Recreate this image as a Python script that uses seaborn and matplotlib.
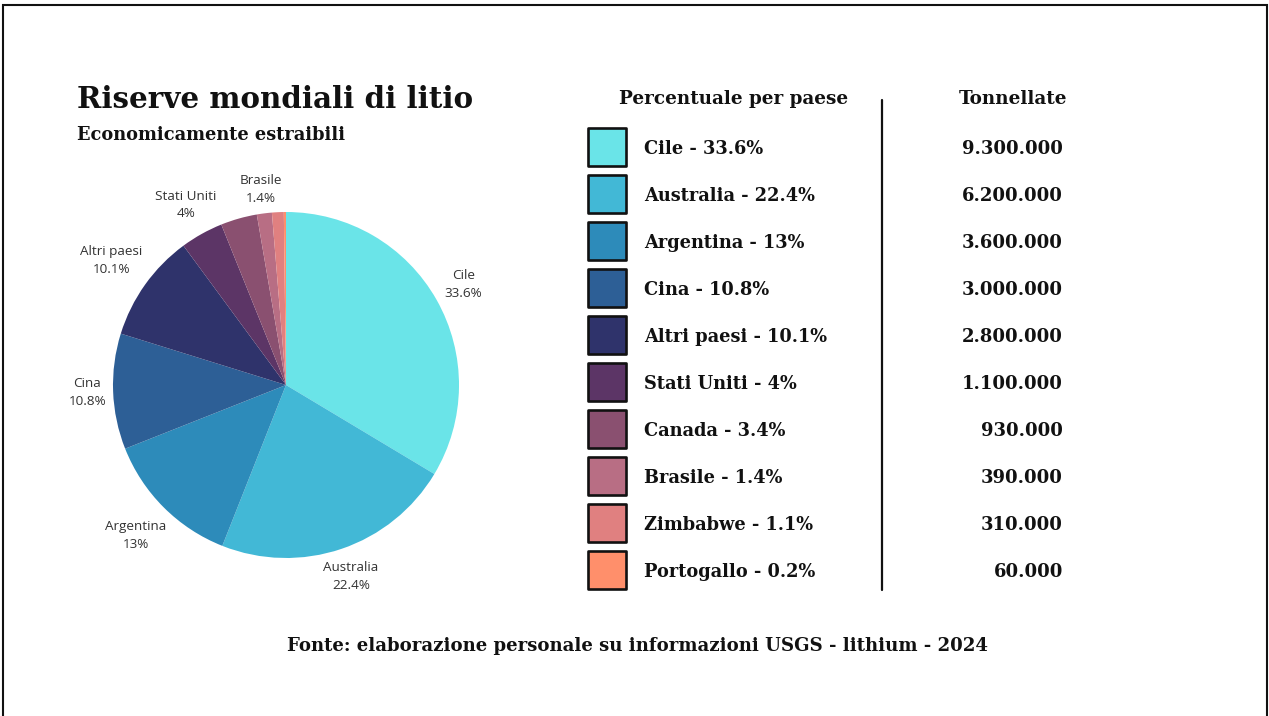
import matplotlib
matplotlib.use('Agg')
import matplotlib.pyplot as plt
from matplotlib.patches import Rectangle
import seaborn as sns
import numpy as np
import pandas as pd

# dati: riserve mondiali di litio (USGS 2024)
paesi = ['Cile', 'Australia', 'Argentina', 'Cina', 'Altri paesi',
         'Stati Uniti', 'Canada', 'Brasile', 'Zimbabwe', 'Portogallo']
quote = [33.6, 22.4, 13, 10.8, 10.1, 4, 3.4, 1.4, 1.1, 0.2]
quote_txt = ['33.6%', '22.4%', '13%', '10.8%', '10.1%',
             '4%', '3.4%', '1.4%', '1.1%', '0.2%']
tonnellate = ['9.300.000', '6.200.000', '3.600.000', '3.000.000', '2.800.000',
              '1.100.000', '930.000', '390.000', '310.000', '60.000']
colori = ['#6ae4e8', '#42b8d6', '#2d8bba', '#2d5f96', '#2f336b',
          '#5c3566', '#8a5070', '#b86e84', '#e08080', '#ff8f6b']

# quali spicchi hanno etichetta e a che distanza (stile)
etichetta_su = [True, True, True, True, True, True, False, True, False, False]
dist_etichette = [1.18, 1.17, 1.23, 1.15, 1.24, 1.19, 1.2, 1.14, 1.2, 1.2]

sns.set_theme(style='white')
plt.rcParams['font.family'] = ['DejaVu Serif']

W, H = 1269, 716
fig = plt.figure(figsize=(W / 100, H / 100), dpi=100)
fig.patch.set_facecolor('white')

# cornice
fig.add_artist(Rectangle((3 / W, -0.05), (1267 - 3) / W, (H - 5) / H + 0.05,
                         transform=fig.transFigure, fill=False,
                         edgecolor='#111111', linewidth=1.5))

# titolo
serif = dict(family='DejaVu Serif', weight='bold', color='#111111')
fig.text(77 / W, 1 - 108 / H, 'Riserve mondiali di litio', fontsize=21.2,
         va='baseline', ha='left', **serif)
fig.text(77 / W, 1 - 140 / H, 'Economicamente estraibili', fontsize=12.8,
         va='baseline', ha='left', **serif)

# torta
cx, cy, r = 286, 385, 173
ax = fig.add_axes([(cx - r) / W, (H - cy - r) / H, 2 * r / W, 2 * r / H])
wedges, _ = ax.pie(quote, colors=colori, startangle=90, counterclock=False,
                   radius=1, wedgeprops=dict(linewidth=0))
ax.set_xlim(-1, 1)
ax.set_ylim(-1, 1)
ax.set_aspect('equal')
ax.axis('off')

for w, nome, q, su, d in zip(wedges, paesi, quote_txt, etichetta_su, dist_etichette):
    if not su:
        continue
    ang = np.deg2rad((w.theta1 + w.theta2) / 2)
    ax.text(d * np.cos(ang), d * np.sin(ang), f'{nome}\n{q}',
            ha='center', va='center', fontsize=9.7, family='Open Sans',
            color='#333333', linespacing=1.45, clip_on=False)

# legenda / tabella
df = pd.DataFrame({'paese': paesi, 'riga': np.arange(len(paesi)),
                   'x': 27.0})
lg = fig.add_axes([580 / W, (H - 593.5) / H, 500 / W, 470 / H])
sns.scatterplot(data=df, x='x', y='riga', hue='paese', palette=colori,
                marker='s', s=720, edgecolor='#111111', linewidth=1.9,
                legend=False, ax=lg, clip_on=False)
lg.set_xlim(0, 500)
lg.set_ylim(9.5, -0.5)
lg.axis('off')

for i, (nome, q, t) in enumerate(zip(paesi, quote_txt, tonnellate)):
    lg.text(64, i + 0.04, f'{nome} - {q}', ha='left', va='center',
            fontsize=12.8, clip_on=False, **serif)
    lg.text(483, i + 0.04, t, ha='right', va='center',
            fontsize=13, clip_on=False, **serif)

lg.text(154, -1.02, 'Percentuale per paese', ha='center', va='center',
        fontsize=13.2, clip_on=False, **serif)
lg.text(433, -1.02, 'Tonnellate', ha='center', va='center',
        fontsize=13.2, clip_on=False, **serif)
lg.plot([302, 302], [-1.0, 9.43], color='#111111', linewidth=1.6,
        clip_on=False)

# fonte
fig.text(638 / W, 1 - 646 / H,
         'Fonte: elaborazione personale su informazioni USGS - lithium - 2024',
         ha='center', va='center', fontsize=13.1, **serif)

fig.savefig('out.png', dpi=100, facecolor='white')
